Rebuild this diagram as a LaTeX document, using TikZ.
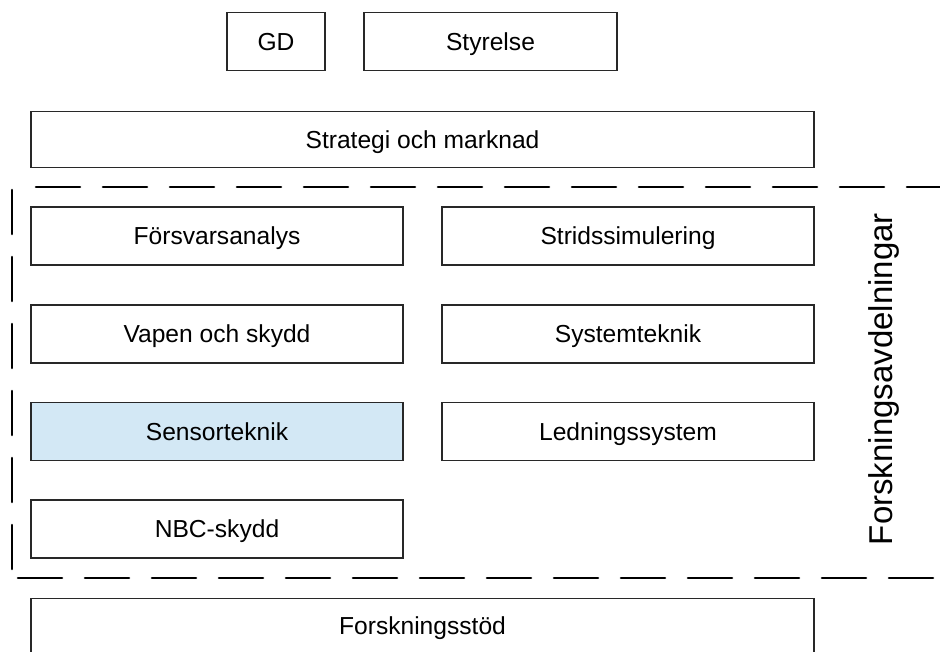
\documentclass[tikz,border=0pt]{standalone}
\usepackage{fontspec}
\setmainfont{Liberation Sans}
\definecolor{sensorblue}{RGB}{211,232,245}
\definecolor{boxline}{RGB}{40,40,40}
\begin{document}
\begin{tikzpicture}[x=1pt,y=-1pt,
  unit/.style={draw=boxline,line width=1.3pt,fill=white,
    font=\fontsize{24.6}{26}\selectfont,text height=17.6pt,text depth=0pt},
  caption/.style={font=\fontsize{24.6}{26}\selectfont,text height=17.6pt,text depth=0pt},
  division/.style={draw=black,line width=2.6pt,dash pattern=on 44pt off 23pt,line cap=round}]
\clip (0,0) rectangle (940,652);
\fill[white] (0,0) rectangle (940,652);

% Management
\node[unit,minimum width=98pt,minimum height=58pt] (gd) at (276,41.5) {GD};
\node[unit,minimum width=253pt,minimum height=58pt] (styrelse) at (490.5,41.5) {Styrelse};
\node[unit,minimum width=783pt,minimum height=56pt] (strategi) at (422.5,139.5) {Strategi och marknad};

% Research divisions
\node[unit,minimum width=372pt,minimum height=58pt] (fa) at (217,236) {Försvarsanalys};
\node[unit,minimum width=372pt,minimum height=58pt] (ss) at (628,236) {Stridssimulering};
\node[unit,minimum width=372pt,minimum height=58pt] (vs) at (217,334) {Vapen och skydd};
\node[unit,minimum width=372pt,minimum height=58pt] (st) at (628,334) {Systemteknik};
\node[unit,fill=sensorblue,minimum width=372pt,minimum height=58pt] (se) at (217,431.5) {Sensorteknik};
\node[unit,minimum width=372pt,minimum height=58pt] (ls) at (628,431.5) {Ledningssystem};
\node[unit,minimum width=372pt,minimum height=58pt] (nbc) at (217,529) {NBC-skydd};

% Support (box runs past the lower edge)
\node[unit,minimum width=783pt,minimum height=80pt,anchor=north] (fs) at (422.5,597.5) {};
\node[caption] (fslabel) at (422.5,626) {Forskningsstöd};

% Dashed frame around the research divisions
\coordinate (tr) at (960,187);
\coordinate (br) at (940,578);
\draw[division] (36,187) -- (tr);
\draw[division] (12,190) -- (12,580);
\draw[division] (18,578) -- (br);
\node[rotate=90,anchor=base,font=\fontsize{33}{36}\selectfont] (avd) at (892,379) {Forskningsavdelningar};
\end{tikzpicture}
\end{document}
